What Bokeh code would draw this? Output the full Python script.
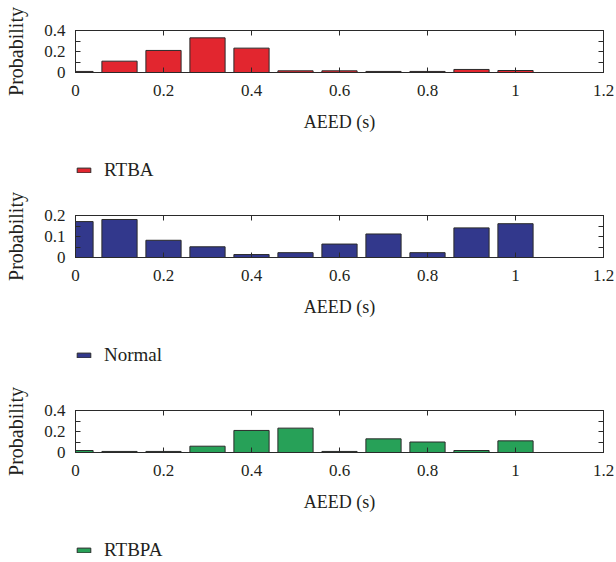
from bokeh.plotting import figure
from bokeh.models import LinearAxis, FixedTicker, Legend, LegendItem, Range1d
from bokeh.layouts import column
from bokeh.embed import file_html
from bokeh.resources import INLINE

# ---- data ----
aeed_bins = [0.0, 0.1, 0.2, 0.3, 0.4, 0.5, 0.6, 0.7, 0.8, 0.9, 1.0]
rtba = [0.010, 0.108, 0.210, 0.330, 0.232, 0.016, 0.016, 0.010, 0.010, 0.029, 0.019]
normal = [0.171, 0.181, 0.082, 0.051, 0.014, 0.023, 0.064, 0.112, 0.023, 0.141, 0.161]
rtbpa = [0.019, 0.010, 0.010, 0.060, 0.210, 0.232, 0.010, 0.130, 0.100, 0.019, 0.111]

x_ticks = [0, 0.2, 0.4, 0.6, 0.8, 1.0, 1.2]
x_tick_labels = ["0", "0.2", "0.4", "0.6", "0.8", "1", "1.2"]

series_names = ["RTBA", "Normal", "RTBPA"]
series_values = [rtba, normal, rtbpa]
y_max = [0.4, 0.2, 0.4]
y_major = [[0, 0.2, 0.4], [0, 0.1, 0.2], [0, 0.2, 0.4]]
y_major_labels = [["0", "0.2", "0.4"], ["0", "0.1", "0.2"], ["0", "0.2", "0.4"]]
y_minor = [[0.1, 0.3], [0.05, 0.15], [0.1, 0.3]]
colors = ["#E2262F", "#32388C", "#27A158"]

FONT = "Liberation Serif"
TXT = "#231F20"
EDGE = "#2a2a2a"

borders_top = [30, 25, 34]
legend_heights = [40, 41, 32]

parts = []
for i in range(3):
    p = figure(width=616, frame_width=528, frame_height=42,
               min_border_left=75, min_border_right=13,
               min_border_top=borders_top[i], min_border_bottom=78,
               x_range=Range1d(0, 1.2), y_range=Range1d(0, y_max[i]),
               output_backend="svg", toolbar_location=None,
               x_axis_label="AEED (s)", y_axis_label="Probability")
    p.grid.visible = False
    p.outline_line_color = EDGE
    p.outline_line_width = 1
    p.background_fill_color = "white"
    p.border_fill_color = "white"

    p.vbar(x=aeed_bins, top=series_values[i], width=0.08, bottom=0,
           fill_color=colors[i], line_color=EDGE, line_width=1)

    # x axis
    xa = p.xaxis[0]
    xa.ticker = FixedTicker(ticks=x_ticks, minor_ticks=[])
    xa.major_label_overrides = dict(zip(x_ticks, x_tick_labels))
    xa.major_tick_in = 5
    xa.major_tick_out = 0
    xa.minor_tick_line_color = None
    xa.axis_line_color = EDGE
    xa.major_tick_line_color = EDGE
    xa.major_label_standoff = 12
    xa.axis_label_standoff = 13
    xa.major_label_text_font = FONT
    xa.major_label_text_font_size = "17px"
    xa.major_label_text_color = TXT
    xa.axis_label_text_font = FONT
    xa.axis_label_text_font_size = "18px"
    xa.axis_label_text_font_style = "normal"
    xa.axis_label_text_color = TXT

    # y axis
    ya = p.yaxis[0]
    ya.ticker = FixedTicker(ticks=y_major[i], minor_ticks=y_minor[i])
    ya.major_label_overrides = dict(zip(y_major[i], y_major_labels[i]))
    ya.major_tick_in = 5
    ya.major_tick_out = 0
    ya.minor_tick_in = 5
    ya.minor_tick_out = 0
    ya.axis_line_color = EDGE
    ya.major_tick_line_color = EDGE
    ya.minor_tick_line_color = EDGE
    ya.major_label_standoff = 10
    ya.axis_label_standoff = 14
    ya.major_label_text_font = FONT
    ya.major_label_text_font_size = "17px"
    ya.major_label_text_color = TXT
    ya.axis_label_text_font = FONT
    ya.axis_label_text_font_size = "20px"
    ya.axis_label_text_font_style = "normal"
    ya.axis_label_text_color = TXT

    # top axis (ticks only, labels not drawn)
    ta = LinearAxis(ticker=FixedTicker(ticks=x_ticks, minor_ticks=[]),
                    major_tick_in=5, major_tick_out=0,
                    major_label_text_color=None, major_label_text_font_size="1px",
                    major_label_standoff=0,
                    axis_line_color=EDGE, major_tick_line_color=EDGE,
                    minor_tick_line_color=None)
    p.add_layout(ta, "above")
    # right axis (ticks only, labels not drawn)
    ra = LinearAxis(ticker=FixedTicker(ticks=y_major[i], minor_ticks=y_minor[i]),
                    major_tick_in=5, major_tick_out=0,
                    minor_tick_in=5, minor_tick_out=0,
                    major_label_text_color=None, major_label_text_font_size="1px",
                    major_label_standoff=0,
                    axis_line_color=EDGE, major_tick_line_color=EDGE,
                    minor_tick_line_color=EDGE)
    p.add_layout(ra, "right")
    parts.append(p)

    # legend strip below the chart (its bar renderer is hidden; only the legend shows)
    h = legend_heights[i]
    lg = figure(width=616, height=h, min_border=0, x_axis_type=None, y_axis_type=None,
                x_range=Range1d(0, 1.2), y_range=Range1d(0, y_max[i]),
                output_backend="svg", toolbar_location=None)
    lg.grid.visible = False
    lg.outline_line_color = None
    lr = lg.vbar(x=aeed_bins, top=series_values[i], width=0.08, bottom=0,
                 fill_color=colors[i], line_color=EDGE, line_width=1, visible=False)
    leg = Legend(items=[LegendItem(label=series_names[i], renderers=[lr])],
                 location=(0, h - 31), orientation="vertical",
                 glyph_width=17, glyph_height=6, label_standoff=12,
                 padding=0, margin=0, spacing=0, click_policy="none",
                 border_line_color=None, background_fill_alpha=0,
                 label_text_font=FONT, label_text_font_size="19px",
                 label_text_color=TXT)
    lg.add_layout(leg, "center")
    parts.append(lg)

layout = column(*parts, spacing=0)
open("out.html", "w").write(file_html(layout, INLINE))
